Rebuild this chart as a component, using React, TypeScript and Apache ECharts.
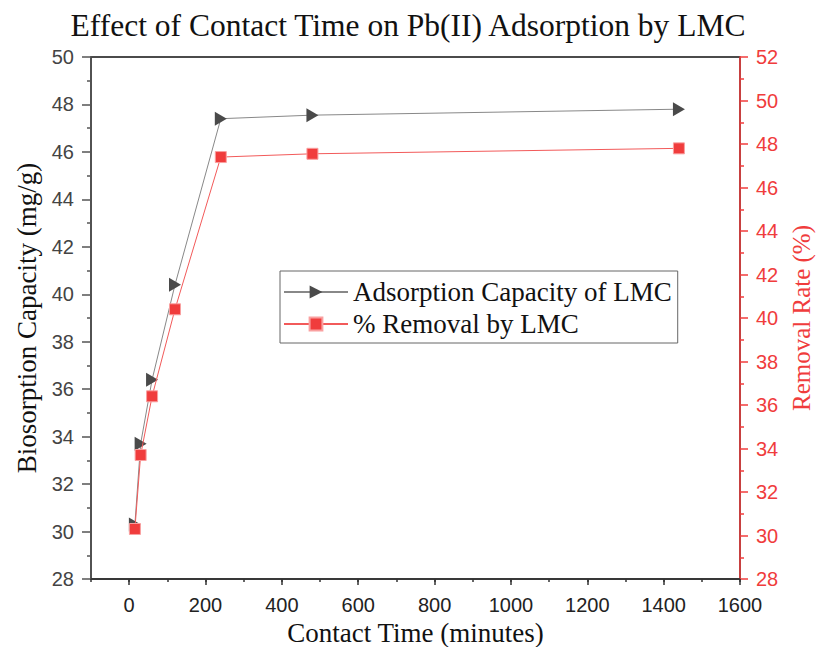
import React, { useEffect, useRef } from 'react';
import * as echarts from 'echarts';

// ---- Data ----
const contactTime = [15, 30, 60, 120, 240, 480, 1440];
const adsorptionCapacity = [30.3, 33.7, 36.4, 40.4, 47.4, 47.55, 47.8];
const removalRate = [30.3, 33.7, 36.4, 40.4, 47.4, 47.55, 47.8];
const xMajorTicks = [0, 200, 400, 600, 800, 1000, 1200, 1400, 1600];
const seriesNames = ['Adsorption Capacity of LMC', '% Removal by LMC'];

const TRIANGLE = 'path://M0,0L12,7L0,14Z';
const SERIF = 'Liberation Serif, Times New Roman, serif';
const SANS = 'Liberation Sans, Arial, sans-serif';
const RED = '#f03c3c';

export default function App() {
  const ref = useRef<HTMLDivElement>(null);

  useEffect(() => {
    if (!ref.current) return;
    const chart = echarts.init(ref.current, undefined, { renderer: 'svg' });
    const gridPos = { left: 91, right: 76, top: 57, bottom: 68, outerBoundsMode: 'none', containLabel: false };
    const plain = (v: number) => String(v);
    const option: any = {
      animation: false,
      backgroundColor: '#fff',
      title: {
        text: 'Effect of Contact Time on Pb(II) Adsorption by LMC',
        left: 'center',
        top: 4,
        textStyle: { fontFamily: SERIF, fontSize: 31.5, fontWeight: 'normal', color: '#111' },
      },
      grid: [
        { ...gridPos, show: true, borderColor: '#111', borderWidth: 1.5, backgroundColor: 'transparent' },
        { ...gridPos, show: false },
      ],
      legend: {
        orient: 'vertical',
        left: 280,
        top: 271,
        backgroundColor: '#fff',
        borderColor: '#666',
        borderWidth: 1,
        borderRadius: 0,
        padding: [6, 6, 4, 3],
        itemGap: 2,
        itemWidth: 64,
        itemHeight: 16,
        textStyle: { fontFamily: SERIF, fontSize: 27, color: '#111', lineHeight: 30 },
        data: seriesNames,
      },
      xAxis: [
        {
          type: 'value',
          gridIndex: 0,
          position: 'bottom',
          min: -100,
          max: 1600,
          interval: 100,
          name: 'Contact Time (minutes)',
          nameLocation: 'middle',
          nameGap: 40,
          nameTextStyle: { fontFamily: SERIF, fontSize: 27, color: '#111' },
          axisLine: { show: true, onZero: false, lineStyle: { color: '#333', width: 1.5 } },
          axisTick: { show: true, length: 6, customValues: xMajorTicks, lineStyle: { color: '#333', width: 1.5 } },
          axisLabel: { customValues: xMajorTicks, formatter: plain, fontFamily: SANS, fontSize: 20, color: '#222', margin: 16 },
          splitLine: { show: false },
        },
        {
          type: 'value',
          gridIndex: 1,
          position: 'bottom',
          min: -100,
          max: 1600,
          interval: 100,
          axisLine: { show: false },
          axisTick: { show: true, length: 3, lineStyle: { color: '#333', width: 1.5 } },
          axisLabel: { show: false },
          splitLine: { show: false },
        },
      ],
      yAxis: [
        {
          type: 'value',
          gridIndex: 0,
          position: 'left',
          min: 28,
          max: 50,
          interval: 2,
          name: 'Biosorption Capacity (mg/g)',
          nameLocation: 'middle',
          nameGap: 50,
          nameTextStyle: { fontFamily: SERIF, fontSize: 27, color: '#111', lineHeight: 27 },
          axisLine: { show: true, onZero: false, lineStyle: { color: '#555', width: 1.5 } },
          axisTick: { show: true, length: 9, lineStyle: { color: '#555', width: 1.5 } },
          minorTick: { show: true, splitNumber: 2, length: 4, lineStyle: { color: '#555', width: 1.5 } },
          axisLabel: { formatter: plain, fontFamily: SANS, fontSize: 20, color: '#444', margin: 17 },
          splitLine: { show: false },
        },
        {
          type: 'value',
          gridIndex: 0,
          position: 'right',
          min: 28,
          max: 52,
          interval: 2,
          name: 'Removal Rate (%)',
          nameLocation: 'middle',
          nameGap: 46,
          nameTextStyle: { fontFamily: SERIF, fontSize: 25, color: RED, lineHeight: 25 },
          axisLine: { show: true, onZero: false, lineStyle: { color: RED, width: 1.5 } },
          axisTick: { show: true, length: 8, lineStyle: { color: RED, width: 1.5 } },
          minorTick: { show: true, splitNumber: 2, length: 4, lineStyle: { color: RED, width: 1.5 } },
          axisLabel: { formatter: plain, fontFamily: SANS, fontSize: 20, color: RED, margin: 16 },
          splitLine: { show: false },
        },
        {
          type: 'value',
          gridIndex: 1,
          min: 28,
          max: 50,
          show: false,
        },
      ],
      series: [
        {
          name: seriesNames[0],
          type: 'line',
          xAxisIndex: 0,
          yAxisIndex: 0,
          data: contactTime.map((t, i) => [t, adsorptionCapacity[i]]),
          symbol: TRIANGLE,
          symbolSize: [12, 14],
          itemStyle: { color: '#4a4a4a' },
          lineStyle: { color: '#888', width: 1 },
          z: 3,
        },
        {
          name: seriesNames[1],
          type: 'line',
          xAxisIndex: 0,
          yAxisIndex: 1,
          data: contactTime.map((t, i) => [t, removalRate[i]]),
          symbol: 'rect',
          symbolSize: 11,
          itemStyle: { color: RED, borderColor: '#f9a0a0', borderWidth: 1 },
          lineStyle: { color: '#f25a5a', width: 1 },
          z: 4,
        },
      ],
    };
    chart.setOption(option);
    return () => chart.dispose();
  }, []);

  return (
    <div
      ref={ref}
      style={{ position: 'fixed', left: 0, top: 0, width: 816, height: 647, background: '#fff' }}
    />
  );
}
